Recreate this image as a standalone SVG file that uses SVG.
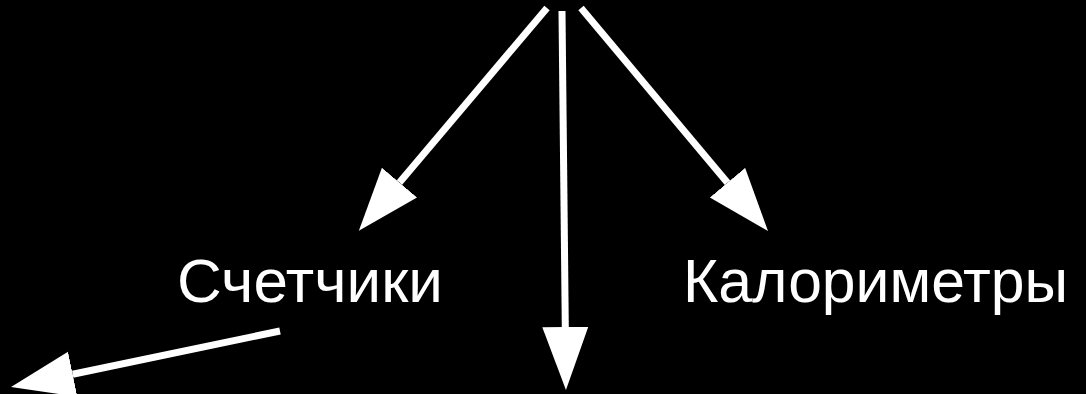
<svg xmlns="http://www.w3.org/2000/svg" width="1086" height="394" viewBox="0 0 1086 394">
  <style>
    .conn { stroke: #fff; stroke-width: 7; fill: none; marker-end: url(#arrow); }
    .label { fill: #fff; font-family: "Liberation Sans", Arial, sans-serif; font-size: 62px; }
  </style>
  <defs>
    <marker id="arrow" markerUnits="userSpaceOnUse" viewBox="0 -24 64 48" refX="0" refY="0" markerWidth="64" markerHeight="48" orient="auto">
      <path d="M0,-23 L63,0 L0,23 z" fill="#fff"/>
    </marker>
  </defs>
  <rect width="1086" height="394" fill="#000"/>
  <g id="connectors">
    <line class="conn" x1="547" y1="8" x2="399.5" y2="182.6"/>
    <line class="conn" x1="562" y1="11" x2="565.3" y2="327"/>
    <line class="conn" x1="581" y1="8" x2="727.5" y2="182.7"/>
    <line class="conn" x1="280" y1="331" x2="72.7" y2="374.2"/>
  </g>
  <g id="node-counters">
    <text class="label" x="177" y="302" textLength="266" lengthAdjust="spacingAndGlyphs">Счетчики</text>
  </g>
  <g id="node-calorimeters">
    <text class="label" x="683" y="302" textLength="385" lengthAdjust="spacingAndGlyphs">Калориметры</text>
  </g>
</svg>
